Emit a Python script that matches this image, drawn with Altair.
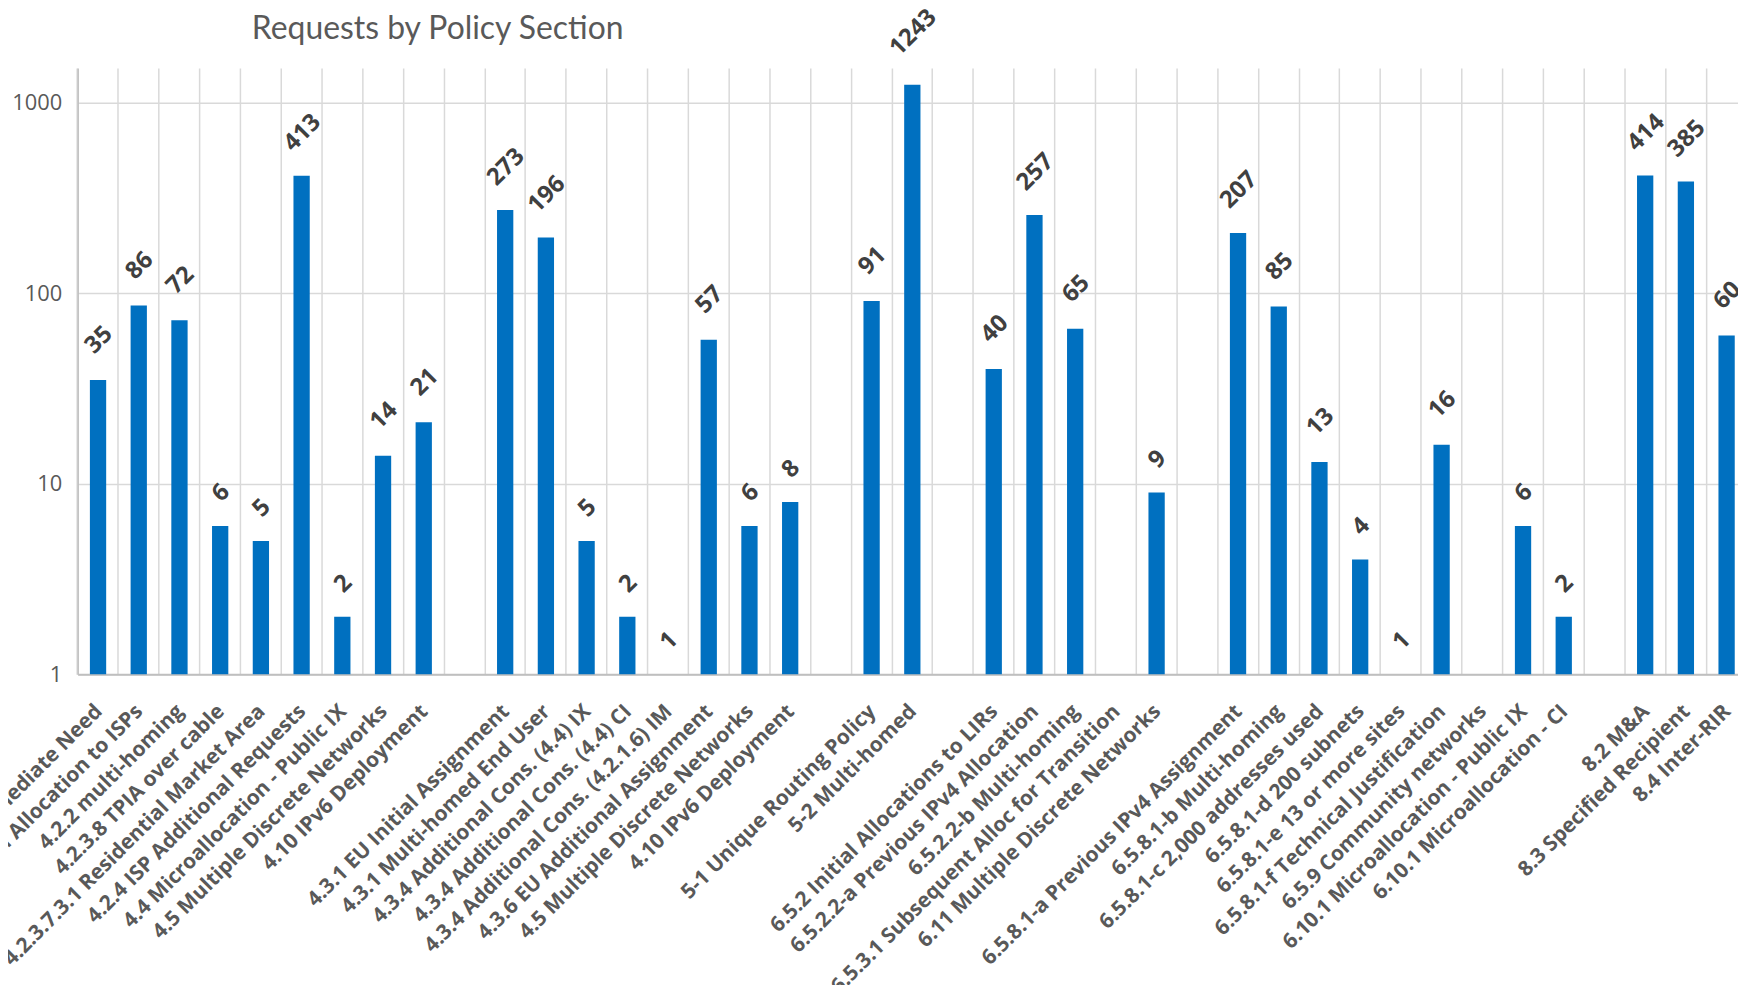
import json
import altair as alt
import pandas as pd

# ---- data ----
categories = [
    "4.2.1.6 Immediate Need", "4.2.2 Initial Allocation to ISPs", "4.2.2 multi-homing",
    "4.2.3.8 TPIA over cable", "4.2.3.7.3.1 Residential Market Area",
    "4.2.4 ISP Additional Requests", "4.4 Microallocation - Public IX",
    "4.5 Multiple Discrete Networks", "4.10 IPv6 Deployment", "",
    "4.3.1 EU Initial Assignment", "4.3.1 Multi-homed End User",
    "4.3.4 Additional Cons. (4.4) IX", "4.3.4 Additional Cons. (4.4) CI",
    "4.3.4 Additional Cons. (4.2.1.6) IM", "4.3.6 EU Additional Assignment",
    "4.5 Multiple Discrete Networks", "4.10 IPv6 Deployment", "",
    "5-1 Unique Routing Policy", "5-2 Multi-homed", "",
    "6.5.2 Initial Allocations to LIRs", "6.5.2.2-a Previous IPv4 Allocation",
    "6.5.2.2-b Multi-homing", "6.5.3.1 Subsequent Alloc for Transition",
    "6.11 Multiple Discrete Networks", "",
    "6.5.8.1-a Previous IPv4 Assignment", "6.5.8.1-b Multi-homing",
    "6.5.8.1-c 2,000 addresses used", "6.5.8.1-d 200 subnets",
    "6.5.8.1-e 13 or more sites", "6.5.8.1-f Technical Justification",
    "6.5.9 Community networks", "6.10.1 Microallocation - Public IX",
    "6.10.1 Microallocation - CI", "",
    "8.2 M&A", "8.3 Specified Recipient", "8.4 Inter-RIR",
]
requests = [
    35, 86, 72, 6, 5, 413, 2, 14, 21, None,
    273, 196, 5, 2, 1, 57, 6, 8, None,
    91, 1243, None,
    40, 257, 65, None, 9, None,
    207, 85, 13, 4, 1, 16, None, 6, 2, None,
    414, 385, 60,
]
y_ticks = [1, 10, 100, 1000]
title_text = "Requests by Policy Section"

n = len(categories)
df = pd.DataFrame({"idx": list(range(n)), "value": requests})
df = df[df["value"].notna()].copy()

W = 1677
H = 609
label_expr = json.dumps(categories) + "[datum.value]"

x_enc = alt.X(
    "idx:O",
    scale=alt.Scale(domain=list(range(n)), paddingInner=0, paddingOuter=0),
    axis=alt.Axis(
        title=None,
        labelExpr=label_expr,
        labelAngle=-45,
        labelAlign="right",
        labelBaseline="middle",
        labelPadding=34,
        labelOffset=1,
        labelFont="Open Sans",
        labelFontSize=21,
        labelFontWeight="bold",
        labelColor="#595959",
        labelOverlap=False,
        labelLimit=1000,
        bandPosition=0,
        ticks=False,
        grid=True,
        gridColor="#d9d9d9",
        gridWidth=1.5,
        domain=True,
        domainColor="#bfbfbf",
        domainWidth=2,
    ),
)
y_scale = alt.Scale(type="log", domain=[1, 1520], nice=False)
y_enc = alt.Y(
    "value:Q",
    scale=y_scale,
    axis=alt.Axis(
        title=None,
        values=y_ticks,
        format="d",
        ticks=False,
        grid=True,
        gridColor="#d9d9d9",
        gridWidth=1.5,
        domain=True,
        domainColor="#bfbfbf",
        domainWidth=1.5,
        labelFont="Open Sans",
        labelFontSize=22,
        labelColor="#595959",
        labelPadding=16,
    ),
)

base = alt.Chart(df)
bars = base.mark_bar(color="#0070c0", width=alt.RelativeBandSize(0.4)).encode(
    x=x_enc, y=y_enc, y2=alt.datum(1)
)

offsets = {1: -33, 2: -40, 3: -43, 4: -52}
text_layers = []
for nd, off in offsets.items():
    t = (
        base.transform_calculate(lab="toString(datum.value)")
        .transform_filter(f"length(datum.lab) == {nd}")
        .mark_text(
            angle=315,
            align="center",
            baseline="middle",
            xOffset=1,
            yOffset=off,
            font="Open Sans",
            fontSize=24,
            fontWeight="bold",
            color="#404040",
        )
        .encode(x=alt.X("idx:O"), y=alt.Y("value:Q"), text="lab:N")
    )
    text_layers.append(t)

chart = (
    alt.layer(bars, *text_layers)
    .properties(
        width=W,
        height=H,
        autosize=alt.AutoSizeParams(type="none"),
        padding={"left": 70, "top": 58, "right": -9, "bottom": 310},
        title=alt.TitleParams(
            title_text,
            anchor="start",
            frame="group",
            dx=175,
            offset=-66,
            baseline="alphabetic",
            font="Lato",
            fontSize=32,
            fontWeight="normal",
            color="#595959",
        ),
        background="white",
    )
    .configure_view(stroke=None)
)

chart.save("out.html", embed_options={"renderer": "svg", "actions": False})
